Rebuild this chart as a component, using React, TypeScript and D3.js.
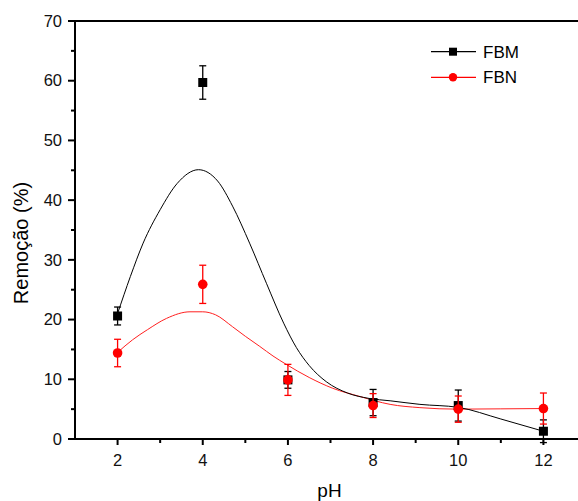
import React from "react";
import * as d3 from "d3";

const phValues = [2, 4, 6, 8, 10, 12];
const fbmValues = [20.6, 59.7, 9.9, 6.1, 5.6, 1.3];
const fbmErrors = [1.5, 2.8, 1.4, 2.2, 2.6, 1.9];
const fbnValues = [14.4, 25.9, 9.9, 5.6, 5.0, 5.1];
const fbnErrors = [2.3, 3.2, 2.6, 2.0, 2.2, 2.6];

const fbmCurveX = [2.0, 2.3, 2.6, 3.0, 3.4, 3.9, 4.35, 4.7, 5.1, 5.5, 5.9, 6.2, 6.5, 6.9, 7.4, 7.9, 8.4, 9.1, 10.0, 11.0, 12.0];
const fbmCurveY = [21.0, 27.2, 32.8, 38.4, 42.8, 45.1, 43.2, 39.0, 32.8, 26.0, 19.4, 15.3, 12.3, 9.6, 7.7, 6.8, 6.4, 5.8, 5.3, 3.35, 1.3];
const fbnCurveX = [2.0, 2.35, 2.7, 3.15, 3.7, 4.0, 4.3, 4.7, 5.0, 5.34, 5.65, 5.96, 6.5, 7.05, 7.7, 8.4, 9.1, 10.0, 11.0, 12.0];
const fbnCurveY = [14.5, 16.6, 18.3, 20.2, 21.3, 21.3, 20.8, 18.8, 17.2, 15.5, 13.9, 12.5, 10.3, 8.5, 7.1, 5.8, 5.25, 5.0, 5.05, 5.1];

const xMajorTicks = [2, 4, 6, 8, 10, 12];
const xMinorTicks = [3, 5, 7, 9, 11, 13];
const yMajorTicks = [0, 10, 20, 30, 40, 50, 60, 70];
const yMinorTicks = [5, 15, 25, 35, 45, 55, 65];

const legendLabels = ["FBM", "FBN"];

const W = 578;
const H = 501;
const left = 75;
const right = 586;
const top = 21;
const bottom = 439;
const font = "Liberation Sans, Arial, sans-serif";

export default function App() {
  const x = d3.scaleLinear().domain([1, 13]).range([left, right]);
  const y = d3.scaleLinear().domain([0, 70]).range([bottom, top]);

  const mk = d3
    .line<[number, number]>()
    .x((d) => x(d[0]))
    .y((d) => y(d[1]))
    .curve(d3.curveMonotoneX);

  const fbmPath = mk(fbmCurveX.map((v, i) => [v, fbmCurveY[i]] as [number, number]));
  const fbnPath = mk(fbnCurveX.map((v, i) => [v, fbnCurveY[i]] as [number, number]));

  const cap = 3.5;
  const sq = 9;
  const r = 4.8;

  return (
    <svg
      width={W}
      height={H}
      style={{ position: "absolute", left: 0, top: 0, background: "#fff" }}
    >
      <rect x={0} y={0} width={W} height={H} fill="#fff" />
      {/* curves */}
      <path d={fbnPath || ""} fill="none" stroke="#ff2020" strokeWidth={1} />
      <path d={fbmPath || ""} fill="none" stroke="#000" strokeWidth={1} />

      {/* FBM error bars + markers */}
      {phValues.map((p, i) => {
        const cx = x(p);
        const y1 = y(fbmValues[i] + fbmErrors[i]);
        const y2 = y(fbmValues[i] - fbmErrors[i]);
        return (
          <g key={"m" + i} stroke="#000" strokeWidth={1.3}>
            <line x1={cx} x2={cx} y1={y1} y2={y2} />
            <line x1={cx - cap} x2={cx + cap} y1={y1} y2={y1} />
            <line x1={cx - cap} x2={cx + cap} y1={y2} y2={y2} />
            <rect
              x={cx - sq / 2}
              y={y(fbmValues[i]) - sq / 2}
              width={sq}
              height={sq}
              fill="#000"
              stroke="none"
            />
          </g>
        );
      })}
      {/* FBN error bars + markers */}
      {phValues.map((p, i) => {
        const cx = x(p);
        const y1 = y(fbnValues[i] + fbnErrors[i]);
        const y2 = y(fbnValues[i] - fbnErrors[i]);
        return (
          <g key={"n" + i} stroke="#ff0000" strokeWidth={1.3}>
            <line x1={cx} x2={cx} y1={y1} y2={y2} />
            <line x1={cx - cap} x2={cx + cap} y1={y1} y2={y1} />
            <line x1={cx - cap} x2={cx + cap} y1={y2} y2={y2} />
            <circle cx={cx} cy={y(fbnValues[i])} r={r} fill="#ff0000" stroke="none" />
          </g>
        );
      })}

      {/* frame */}
      <rect
        x={left}
        y={top}
        width={right - left}
        height={bottom - top}
        fill="none"
        stroke="#000"
        strokeWidth={2}
      />

      {/* y ticks */}
      {yMajorTicks.map((t) => (
        <g key={"ym" + t}>
          <line x1={left - 7} x2={left} y1={y(t)} y2={y(t)} stroke="#000" strokeWidth={2} />
          <text
            x={left - 13}
            y={y(t)}
            dy="0.35em"
            textAnchor="end"
            fontFamily={font}
            fontSize={16.5}
            fill="#111"
          >
            {t}
          </text>
        </g>
      ))}
      {yMinorTicks.map((t) => (
        <line key={"yn" + t} x1={left - 4} x2={left} y1={y(t)} y2={y(t)} stroke="#000" strokeWidth={2} />
      ))}

      {/* x ticks */}
      {xMajorTicks.map((t) => (
        <g key={"xm" + t}>
          <line x1={x(t)} x2={x(t)} y1={bottom} y2={bottom + 6} stroke="#000" strokeWidth={2} />
          <text
            x={x(t)}
            y={466}
            textAnchor="middle"
            fontFamily={font}
            fontSize={16.5}
            fill="#111"
          >
            {t}
          </text>
        </g>
      ))}
      {xMinorTicks.map((t) => (
        <line key={"xn" + t} x1={x(t)} x2={x(t)} y1={bottom} y2={bottom + 4} stroke="#000" strokeWidth={2} />
      ))}

      {/* axis titles */}
      <text
        x={(left + right) / 2 - 1}
        y={497}
        textAnchor="middle"
        fontFamily={font}
        fontSize={19}
        fill="#000"
      >
        pH
      </text>
      <text
        transform={`translate(28, 243) rotate(-90)`}
        textAnchor="middle"
        fontFamily={font}
        fontSize={20}
        fill="#000"
      >
        Remoção (%)
      </text>

      {/* legend */}
      {legendLabels.map((lab, i) => {
        const ly = i === 0 ? 51.7 : 77.3;
        const col = i === 0 ? "#000" : "#ff0000";
        return (
          <g key={"lg" + i}>
            <line x1={431} x2={476} y1={ly} y2={ly} stroke={col} strokeWidth={1.2} />
            {i === 0 ? (
              <rect x={453 - 4} y={ly - 4} width={8} height={8} fill={col} />
            ) : (
              <circle cx={453} cy={ly} r={4.2} fill={col} />
            )}
            <text x={483} y={ly + 6} fontFamily={font} fontSize={17} fill="#000">
              {lab}
            </text>
          </g>
        );
      })}
    </svg>
  );
}
